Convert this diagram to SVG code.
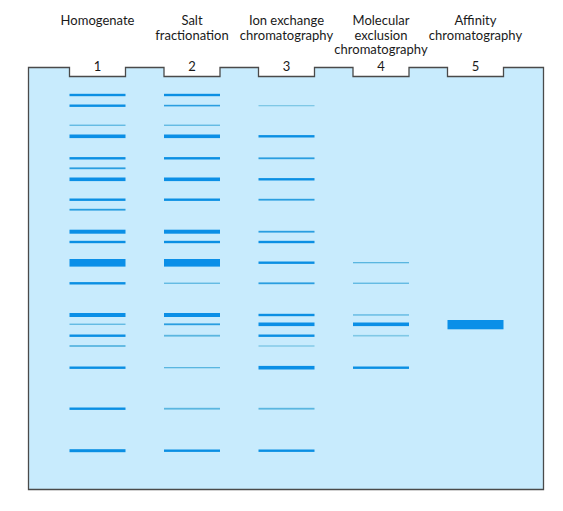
<svg xmlns="http://www.w3.org/2000/svg" width="563" height="511" viewBox="0 0 563 511">
<style>
text{font-family:Lato,"Open Sans","Liberation Sans",sans-serif;font-size:13px;fill:#1a1a1a;text-anchor:middle}
.gel{fill:#c8ebfd;stroke:#4a4a4a;stroke-width:1.3}
.b1{fill:#5ab6e0}
.b1p{fill:#7fc8e6}
.b2{fill:#2a9ee0}
.b3{fill:#0b8fe3}
.b4{fill:#0b8fe6}
.b5{fill:#0a8fe8}
</style>
<rect width="563" height="511" fill="#ffffff"/>
<g id="labels">
<text x="97.5" y="25">Homogenate</text>
<text x="192" y="25">Salt</text>
<text x="192" y="39.5">fractionation</text>
<text x="286.5" y="25">Ion exchange</text>
<text x="286.5" y="39.5">chromatography</text>
<text x="381" y="25">Molecular</text>
<text x="381" y="39.5">exclusion</text>
<text x="381" y="54">chromatography</text>
<text x="475.5" y="25">Affinity</text>
<text x="475.5" y="39.5">chromatography</text>
</g>
<g id="gel">
<path class="gel" d="M28.5,67.5 H69.5 V76.5 H125.5 V67.5 H164 V76.5 H220 V67.5 H258.5 V76.5 H314.5 V67.5 H353 V76.5 H409 V67.5 H447.5 V76.5 H503.5 V67.5 H543.5 V489.5 H28.5 Z"/>
<text x="97.5" y="70.5">1</text>
<text x="192" y="70.5">2</text>
<text x="286.5" y="70.5">3</text>
<text x="381" y="70.5">4</text>
<text x="475.5" y="70.5">5</text>
</g>
<g id="lane1" transform="translate(69.5,0)">
<rect class="b3" y="93.8" width="56" height="2.4"/>
<rect class="b3" y="104.5" width="56" height="2.4"/>
<rect class="b1" y="124.6" width="56" height="1.3"/>
<rect class="b4" y="134.5" width="56" height="3.6"/>
<rect class="b3" y="157.1" width="56" height="2.4"/>
<rect class="b2" y="167.4" width="56" height="1.8"/>
<rect class="b4" y="177.5" width="56" height="3.6"/>
<rect class="b3" y="198.5" width="56" height="2.4"/>
<rect class="b2" y="208.8" width="56" height="1.8"/>
<rect class="b4" y="229.7" width="56" height="4"/>
<rect class="b3" y="240.8" width="56" height="2.4"/>
<rect class="b5" y="259" width="56" height="7.6"/>
<rect class="b3" y="282.1" width="56" height="2.4"/>
<rect class="b4" y="313" width="56" height="4"/>
<rect class="b1" y="323.6" width="56" height="1.3"/>
<rect class="b3" y="334.5" width="56" height="2.4"/>
<rect class="b1" y="345.1" width="56" height="1.8"/>
<rect class="b3" y="366.5" width="56" height="2.4"/>
<rect class="b3" y="407.5" width="56" height="2.4"/>
<rect class="b3" y="449.2" width="56" height="3"/>
</g>
<g id="lane2" transform="translate(164,0)">
<rect class="b3" y="93.8" width="56" height="2.4"/>
<rect class="b2" y="104.8" width="56" height="1.6"/>
<rect class="b1" y="124.6" width="56" height="1.3"/>
<rect class="b4" y="134.5" width="56" height="3.6"/>
<rect class="b3" y="157.1" width="56" height="2.4"/>
<rect class="b4" y="177.5" width="56" height="3.6"/>
<rect class="b3" y="198.5" width="56" height="2.4"/>
<rect class="b4" y="229.7" width="56" height="4"/>
<rect class="b3" y="240.8" width="56" height="2.4"/>
<rect class="b5" y="259" width="56" height="7.6"/>
<rect class="b1" y="282.6" width="56" height="1.3"/>
<rect class="b4" y="313" width="56" height="4"/>
<rect class="b2" y="323.4" width="56" height="1.8"/>
<rect class="b1" y="334.8" width="56" height="1.8"/>
<rect class="b1" y="367" width="56" height="1.3"/>
<rect class="b1" y="407.8" width="56" height="1.8"/>
<rect class="b3" y="449.5" width="56" height="2.4"/>
</g>
<g id="lane3" transform="translate(258.5,0)">
<rect class="b1p" y="105" width="56" height="1.3"/>
<rect class="b3" y="135.1" width="56" height="2.4"/>
<rect class="b2" y="157.4" width="56" height="1.8"/>
<rect class="b3" y="178.1" width="56" height="2.4"/>
<rect class="b2" y="198.8" width="56" height="1.8"/>
<rect class="b2" y="230.8" width="56" height="1.8"/>
<rect class="b3" y="240.8" width="56" height="2.4"/>
<rect class="b3" y="261.5" width="56" height="2.4"/>
<rect class="b2" y="282.4" width="56" height="1.8"/>
<rect class="b3" y="313.8" width="56" height="2.4"/>
<rect class="b4" y="322.5" width="56" height="3.6"/>
<rect class="b3" y="334.5" width="56" height="2.4"/>
<rect class="b1p" y="345.3" width="56" height="1.4"/>
<rect class="b4" y="365.9" width="56" height="3.6"/>
<rect class="b1" y="407.8" width="56" height="1.8"/>
<rect class="b3" y="449.5" width="56" height="2.4"/>
</g>
<g id="lane4" transform="translate(353,0)">
<rect class="b1" y="262" width="56" height="1.3"/>
<rect class="b1" y="282.6" width="56" height="1.3"/>
<rect class="b1" y="314.3" width="56" height="1.3"/>
<rect class="b4" y="322.5" width="56" height="3.6"/>
<rect class="b1p" y="334.9" width="56" height="1.6"/>
<rect class="b3" y="366.5" width="56" height="2.4"/>
</g>
<g id="lane5" transform="translate(447.5,0)">
<rect class="b5" y="320" width="56" height="9.3"/>
</g>
</svg>
